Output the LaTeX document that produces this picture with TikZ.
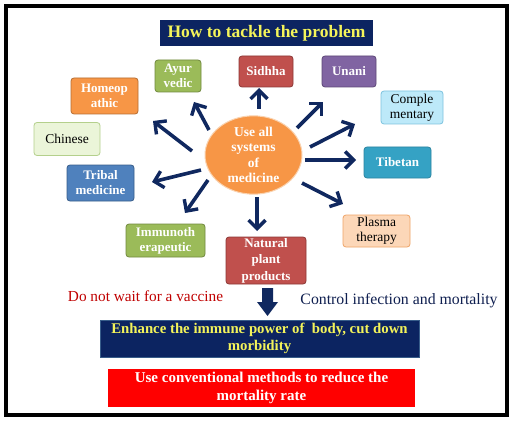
\documentclass[tikz,border=0pt]{standalone}
\usepackage{fontspec}
\setmainfont{Liberation Serif}
\usetikzlibrary{arrows.meta,shapes.geometric,shapes.arrows}
\definecolor{navy}{HTML}{0C2461}
\definecolor{arrowblue}{HTML}{10285F}
\definecolor{ytext}{HTML}{F4F45A}
\definecolor{cgreen}{HTML}{9BBB59}\definecolor{bgreen}{HTML}{71893F}
\definecolor{cred}{HTML}{C0504D}\definecolor{bred}{HTML}{8C3836}
\definecolor{cpurple}{HTML}{8064A2}\definecolor{bpurple}{HTML}{5C4776}
\definecolor{corange}{HTML}{F79646}\definecolor{borange}{HTML}{B66D31}
\definecolor{cblue}{HTML}{4F81BD}\definecolor{bblue}{HTML}{385D8A}
\definecolor{cteal}{HTML}{35A2C4}\definecolor{bteal}{HTML}{2C84A0}
\definecolor{ccyan}{HTML}{BDE9F9}\definecolor{bcyan}{HTML}{7DC3DF}
\definecolor{clgreen}{HTML}{EBF5D9}\definecolor{blgreen}{HTML}{B4D08C}
\definecolor{cpeach}{HTML}{FCD7B8}\definecolor{bpeach}{HTML}{EFA468}
\definecolor{cellb}{HTML}{FAD3B0}
\definecolor{dotext}{HTML}{C00000}
\definecolor{cotext}{HTML}{0F1F50}
\definecolor{bright}{HTML}{FF0000}
\tikzset{
  box/.style={rounded corners=3pt, line width=0.8pt, align=center, inner sep=1pt,
    font=\bfseries\fontsize{13}{15}\selectfont, text=white},
  lbox/.style={box, text=black, font=\fontsize{13.5}{15}\selectfont},
  arr/.style={draw=arrowblue, line width=3.6pt, -{Straight Barb[length=8.5pt,width=17pt,line width=3.4pt]}},
}
\begin{document}
\begin{tikzpicture}[x=1pt,y=-1pt]
\useasboundingbox (0,0) rectangle (513,422);
\fill[white] (0,0) rectangle (513,422);
\draw[line width=3.5pt] (6,6) rectangle (507,415);
% title
\node[fill=navy, text=ytext, font=\bfseries\fontsize{17.5}{19}\selectfont, minimum width=213pt, minimum height=26pt, inner sep=0pt] (title) at (266.5,33) {How to tackle the problem};
% center
\node[ellipse, fill=corange, draw=cellb, line width=1pt, minimum width=97pt, minimum height=76pt, inner sep=0pt, align=center, text=white, font=\bfseries\fontsize{13.5}{15.3}\selectfont] (c) at (253.5,155) {Use all\\systems\\of\\medicine};
% boxes
\node[box, fill=cgreen, draw=bgreen, minimum width=46pt, minimum height=32pt] (ayur) at (178,76) {Ayur\\vedic};
\node[box, fill=cred, draw=bred, minimum width=54pt, minimum height=31pt] (sidhha) at (266,71.5) {Sidhha};
\node[box, fill=cpurple, draw=bpurple, minimum width=54pt, minimum height=31pt] (unani) at (349,71.5) {Unani};
\node[box, fill=corange, draw=borange, minimum width=67pt, minimum height=36pt] (homeo) at (104.5,96) {Homeop\\athic};
\node[lbox, fill=ccyan, draw=bcyan, minimum width=62pt, minimum height=33pt] (comple) at (412,107.5) {Comple\\mentary};
\node[lbox, fill=clgreen, draw=blgreen, minimum width=66pt, minimum height=33pt] (chinese) at (67,139) {Chinese};
\node[box, fill=cteal, draw=bteal, minimum width=67pt, minimum height=31pt] (tibetan) at (397.5,162.5) {Tibetan};
\node[box, fill=cblue, draw=bblue, minimum width=67pt, minimum height=36pt] (tribal) at (100.5,183) {Tribal\\medicine};
\node[box, fill=cgreen, draw=bgreen, minimum width=79pt, minimum height=33pt] (immuno) at (165.5,240.5) {Immunoth\\erapeutic};
\node[box, fill=cred, draw=bred, minimum width=80pt, minimum height=47pt, font=\bfseries\fontsize{13}{16.5}\selectfont] (natural) at (266,260.5) {Natural\\plant\\products};
\node[lbox, fill=cpeach, draw=bpeach, minimum width=67pt, minimum height=32pt] (plasma) at (376.5,231) {Plasma\\therapy};
% arrow ends
\coordinate (t1) at (259,109); \coordinate (h1) at (259,88);
\coordinate (t2) at (209,130); \coordinate (h2) at (194,102);
\coordinate (t3) at (192,151); \coordinate (h3) at (153,121);
\coordinate (t4) at (201,170); \coordinate (h4) at (152,182);
\coordinate (t5) at (208,180); \coordinate (h5) at (185,213);
\coordinate (t6) at (257,197); \coordinate (h6) at (257,231);
\coordinate (t7) at (302,183); \coordinate (h7) at (343,204);
\coordinate (t8) at (305,160); \coordinate (h8) at (356,160);
\coordinate (t9) at (310,147); \coordinate (h9) at (355,124);
\coordinate (t10) at (297,128); \coordinate (h10) at (323,102);
\foreach \i in {1,...,10} {\draw[arr] (t\i) -- (h\i);}
% big down arrow
\coordinate (bt) at (267.5,288); \coordinate (bh) at (267.5,316);
\fill[arrowblue] (262,288) -- (273,288) -- (273,302) -- (278,302) -- (267.5,316) -- (257,302) -- (262,302) -- cycle;
% side texts
\node[text=dotext, font=\fontsize{15.3}{16}\selectfont, inner sep=0pt] (wait) at (145.5,296) {Do not wait for a vaccine};
\node[text=cotext, font=\fontsize{15.8}{16}\selectfont, inner sep=0pt] (control) at (399,301) {Control infection and mortality};
% bottom boxes
\node[fill=navy, draw=bblue, line width=0.6pt, text=ytext, align=center, font=\bfseries\fontsize{14.8}{17.5}\selectfont, minimum width=319pt, minimum height=37pt, inner sep=0pt] (enh) at (259.5,338.5) {Enhance the immune power of~ body, cut down\\morbidity};
\node[fill=bright, text=white, align=center, font=\bfseries\fontsize{15}{18.5}\selectfont, minimum width=307pt, minimum height=38pt, inner sep=0pt] (conv) at (261.5,388) {Use conventional methods to reduce the\\mortality rate};
\end{tikzpicture}
\end{document}
